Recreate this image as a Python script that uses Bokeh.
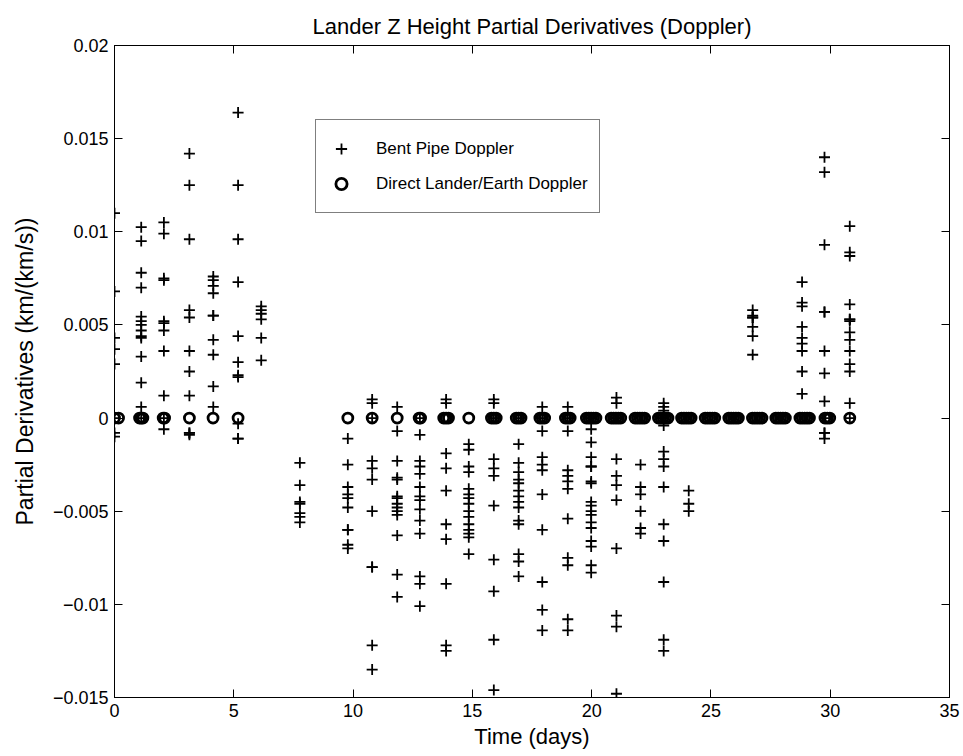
from bokeh.plotting import figure
from bokeh.models import (Range1d, FixedTicker, LinearAxis, CustomJSTickFormatter,
                          Legend, LegendItem, ColumnDataSource)
from bokeh.embed import file_html
from bokeh.resources import INLINE

# ---------------- data ----------------
title_text = "Lander Z Height Partial Derivatives (Doppler)"
x_label = "Time (days)"
y_label = "Partial Derivatives (km/(km/s))"
series_names = ["Bent Pipe Doppler", "Direct Lander/Earth Doppler"]

x_ticks = [0, 5, 10, 15, 20, 25, 30, 35]
x_tick_labels = ["0", "5", "10", "15", "20", "25", "30", "35"]
y_ticks = [-0.015, -0.01, -0.005, 0.0, 0.005, 0.01, 0.015, 0.02]
y_tick_labels = ["\u22120.015", "\u22120.01", "\u22120.005", "0", "0.005", "0.01", "0.015", "0.02"]

# Bent pipe Doppler: pass times (days) and partial derivative values in each pass
bent_pass_times = [0.0, 1.12, 2.07, 3.14, 4.14, 5.18, 6.15, 7.77, 9.78, 10.8,
                   11.85, 12.8, 13.9, 14.85, 15.9, 16.94, 17.93, 19.0, 19.98, 21.04,
                   22.05, 23.02, 24.07, 26.75, 28.82, 29.76, 30.82]
bent_pass_values = [
    [0.0110, 0.0068, 0.0043, 0.0037, 0.0029, 0.0, -0.0008, -0.0010],
    [0.01025, 0.0095, 0.0078, 0.0070, 0.00545, 0.0052, 0.0050, 0.0047, 0.0044, 0.0043, 0.0033, 0.0019, 0.0006, 0.0],
    [0.0105, 0.0099, 0.0074, 0.0075, 0.0052, 0.0051, 0.0047, 0.0036, 0.0012, 0.0, -0.0006],
    [0.0142, 0.0125, 0.0096, 0.0058, 0.0054, 0.0036, 0.0025, 0.0012, -0.0008, -0.0008, -0.0009],
    [0.0076, 0.0074, 0.0071, 0.0067, 0.0055, 0.0055, 0.0042, 0.0034, 0.0017, 0.0006],
    [0.0164, 0.0125, 0.0096, 0.0073, 0.0044, 0.0030, 0.0023, 0.0022, -0.0003, -0.0011, -0.0011],
    [0.0060, 0.0058, 0.0056, 0.0053, 0.0043, 0.0031],
    [-0.0024, -0.0036, -0.0045, -0.0046, -0.0051, -0.0053, -0.0056],
    [-0.0011, -0.0025, -0.0037, -0.0041, -0.0043, -0.0048, -0.0060, -0.0060, -0.0068, -0.0070],
    [0.0010, 0.0008, 0.0, -0.0023, -0.0027, -0.0033, -0.0050, -0.0080, -0.0080, -0.0122, -0.0135],
    [0.0006, -0.0007, -0.0023, -0.0032, -0.0033, -0.0042, -0.0043, -0.0046, -0.0048, -0.0050, -0.0052, -0.0063, -0.0084, -0.0096],
    [0.0, -0.0009, -0.0023, -0.0026, -0.0030, -0.0037, -0.0042, -0.0044, -0.0049, -0.0055, -0.0062, -0.0085, -0.0089, -0.0101],
    [0.0010, 0.0008, -0.0019, -0.0027, -0.0039, -0.0057, -0.0065, -0.0089, -0.0122, -0.0125],
    [-0.0014, -0.0017, -0.0026, -0.0029, -0.0038, -0.0041, -0.0043, -0.0046, -0.0050, -0.0053, -0.0057, -0.0060, -0.0062, -0.0064, -0.0073],
    [0.0010, 0.0008, 0.0, -0.0022, -0.0027, -0.0031, -0.0047, -0.0076, -0.0093, -0.0119, -0.0146],
    [0.0, -0.0014, -0.0024, -0.0029, -0.0033, -0.0035, -0.0039, -0.0042, -0.0045, -0.0048, -0.0055, -0.0057, -0.0073, -0.0077, -0.0085],
    [0.0006, 0.0, -0.0007, -0.0021, -0.0025, -0.0028, -0.0041, -0.0060, -0.0088, -0.0103, -0.0114],
    [0.0006, 0.0, -0.0007, -0.0028, -0.0031, -0.0034, -0.0038, -0.0054, -0.0075, -0.0079, -0.0108, -0.0114],
    [0.0, -0.0006, -0.0013, -0.0021, -0.0026, -0.0026, -0.0034, -0.0035, -0.0045, -0.0047, -0.0050, -0.0052, -0.0056, -0.0059, -0.0066, -0.0069, -0.0079, -0.0083],
    [0.0011, 0.0008, 0.0, -0.0022, -0.0031, -0.0036, -0.0044, -0.0070, -0.0106, -0.0112, -0.0148],
    [-0.0025, -0.0037, -0.0041, -0.0050, -0.0059, -0.0062],
    [0.0008, 0.0006, 0.0004, 0.0, -0.0004, -0.0018, -0.0022, -0.0026, -0.0037, -0.0057, -0.0066, -0.0088, -0.0119, -0.0125],
    [-0.0039, -0.0046, -0.0050],
    [0.0058, 0.0055, 0.0054, 0.0054, 0.0049, 0.0044, 0.0034],
    [0.0073, 0.0062, 0.0060, 0.0049, 0.0043, 0.0040, 0.0036, 0.0025, 0.0013],
    [0.0140, 0.0132, 0.0093, 0.0057, 0.0057, 0.0036, 0.0024, 0.0009, 0.0, -0.0008, -0.0008, -0.0011],
    [0.0103, 0.0089, 0.0087, 0.0061, 0.0053, 0.0053, 0.0052, 0.0046, 0.0042, 0.0036, 0.0029, 0.0025, 0.0008, 0.0],
]

# Direct lander/Earth Doppler: observation times (days) and values
direct_times = [0.0, 0.17, 1.05, 1.12, 1.19, 2.04, 2.10, 3.14, 4.13, 5.18,
                9.78, 10.8, 11.85, 12.77, 12.83,
                13.80, 13.90, 14.00, 14.85,
                15.80, 15.90, 16.00, 16.84, 16.94, 17.04, 17.83, 17.93, 18.03,
                18.90, 19.00, 19.10,
                19.78, 19.88, 19.98, 20.08, 20.18,
                20.82, 20.92, 21.02, 21.12, 21.22,
                21.82, 21.92, 22.02, 22.12, 22.22,
                22.80, 22.90, 23.00, 23.10, 23.20,
                23.77, 23.87, 23.97, 24.07, 24.17,
                24.76, 24.86, 24.96, 25.06, 25.16,
                25.75, 25.85, 25.95, 26.05, 26.15,
                26.74, 26.84, 26.94, 27.04, 27.14,
                27.72, 27.82, 27.92, 28.02, 28.12,
                28.73, 28.83, 28.93, 29.03, 29.13,
                29.78, 29.88, 29.98,
                30.82]
direct_values = [0.0, 0.0, 0.0, 0.0, 0.0, 0.0, 0.0, 0.0, 0.0, 0.0,
                 0.0, 0.0, 0.0, 0.0, 0.0,
                 0.0, 0.0, 0.0, 0.0,
                 0.0, 0.0, 0.0, 0.0, 0.0, 0.0, 0.0, 0.0, 0.0,
                 0.0, 0.0, 0.0,
                 0.0, 0.0, 0.0, 0.0, 0.0,
                 0.0, 0.0, 0.0, 0.0, 0.0,
                 0.0, 0.0, 0.0, 0.0, 0.0,
                 0.0, 0.0, 0.0, 0.0, 0.0,
                 0.0, 0.0, 0.0, 0.0, 0.0,
                 0.0, 0.0, 0.0, 0.0, 0.0,
                 0.0, 0.0, 0.0, 0.0, 0.0,
                 0.0, 0.0, 0.0, 0.0, 0.0,
                 0.0, 0.0, 0.0, 0.0, 0.0,
                 0.0, 0.0, 0.0, 0.0, 0.0,
                 0.0, 0.0, 0.0,
                 0.0]

# ---------------- build sources ----------------
bent_x, bent_y = [], []
for t, vals in zip(bent_pass_times, bent_pass_values):
    for v in vals:
        bent_x.append(t)
        bent_y.append(v)
bent_src = ColumnDataSource(dict(x=bent_x, y=bent_y))
direct_src = ColumnDataSource(dict(x=direct_times, y=direct_values))

FONT = "Liberation Sans"

p = figure(width=963, height=756,
           x_range=Range1d(0, 35), y_range=Range1d(-0.015, 0.02),
           output_backend="svg", toolbar_location=None,
           x_axis_location=None, y_axis_location=None,
           min_border_left=114, min_border_right=14,
           min_border_top=45, min_border_bottom=59,
           background_fill_color="white", border_fill_color="white")
p.grid.visible = False
p.outline_line_color = "black"
p.outline_line_width = 1

p.title.text = title_text
p.title.align = "center"
p.title.vertical_align = "top"
p.title.text_font = FONT
p.title.text_font_size = "22px"
p.title.text_font_style = "normal"
p.title.text_color = "black"
p.title.standoff = 10

def fmt(tick_vals, tick_labels):
    return CustomJSTickFormatter(args=dict(tv=tick_vals, tl=tick_labels), code="""
        let best = 0; let d = Infinity;
        for (let i = 0; i < tv.length; i++) {
            const e = Math.abs(tv[i] - tick);
            if (e < d) { d = e; best = i; }
        }
        return tl[best];
    """)

def style_axis(ax, tick_vals):
    ax.ticker = FixedTicker(ticks=tick_vals)
    ax.major_tick_in = 8
    ax.major_tick_out = 0
    ax.minor_tick_in = 0
    ax.minor_tick_out = 0
    ax.axis_line_color = "black"
    ax.major_tick_line_color = "black"
    ax.major_label_text_font = FONT
    ax.major_label_text_font_size = "18px"
    ax.major_label_text_color = "black"
    ax.axis_label_text_font = FONT
    ax.axis_label_text_font_size = "22px"
    ax.axis_label_text_font_style = "normal"
    ax.axis_label_text_color = "black"

xb = LinearAxis(axis_label=x_label, formatter=fmt(x_ticks, x_tick_labels))
style_axis(xb, x_ticks)
xb.major_label_standoff = 6
xb.axis_label_standoff = 4
p.add_layout(xb, "below")

yl = LinearAxis(axis_label=y_label, formatter=fmt(y_ticks, y_tick_labels))
style_axis(yl, y_ticks)
yl.axis_label_text_font_size = "23px"
yl.major_label_standoff = 6
yl.axis_label_standoff = 12
p.add_layout(yl, "left")

xt = LinearAxis(formatter=CustomJSTickFormatter(code="return '';"))
style_axis(xt, x_ticks)
xt.major_label_text_font_size = "0px"
xt.major_label_standoff = 0
p.add_layout(xt, "above")

yr = LinearAxis(formatter=CustomJSTickFormatter(code="return '';"))
style_axis(yr, y_ticks)
yr.major_label_text_font_size = "0px"
yr.major_label_standoff = 0
p.add_layout(yr, "right")

r_bent = p.scatter("x", "y", source=bent_src, marker="cross", size=11,
                   line_color="black", line_width=1.8)
r_direct = p.scatter("x", "y", source=direct_src, marker="circle", size=10,
                     fill_color=None, line_color="black", line_width=2.8)

legend = Legend(items=[LegendItem(label=series_names[0], renderers=[r_bent]),
                       LegendItem(label=series_names[1], renderers=[r_direct])],
                location=(201, 484))
legend.label_text_font = FONT
legend.label_text_font_size = "17px"
legend.label_text_color = "black"
legend.border_line_color = "black"
legend.border_line_width = 1
legend.background_fill_color = "white"
legend.background_fill_alpha = 1.0
legend.padding = 11
legend.spacing = 0
legend.glyph_width = 28
legend.glyph_height = 35
legend.label_height = 35
legend.label_standoff = 21
legend.margin = 0
p.add_layout(legend, "center")

open("out.html", "w").write(file_html(p, INLINE))
